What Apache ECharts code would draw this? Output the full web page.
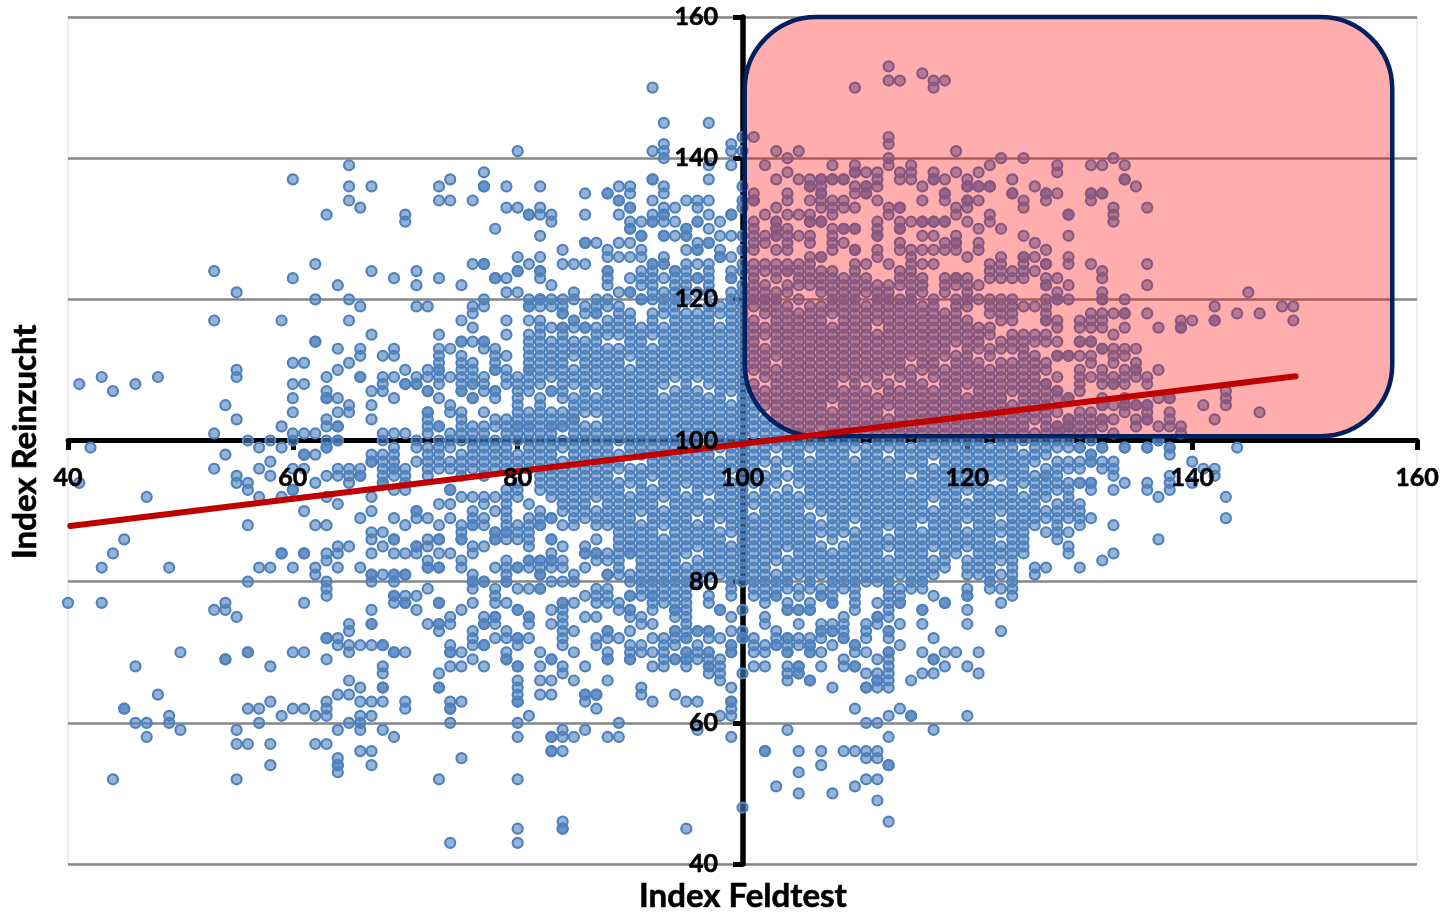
<!DOCTYPE html>
<html><head><meta charset="utf-8">
<style>html,body{margin:0;padding:0;background:#fff}#c{width:1444px;height:915px}</style>
<script src="https://cdn.jsdelivr.net/npm/echarts@6/dist/echarts.min.js"></script>
</head><body><div id="c"></div>
<script>
const tickX=[40,60,80,100,120,140,160];
const tickY=[40,60,80,100,120,140,160];
const xTitle="Index Feldtest";
const yTitle="Index Reinzucht";
const trendLine=[[40.2,87.9],[149.2,109.1]];
const highlightBox=[[100.2,160],[157.8,100.6]];

const xLeft=[40,41,42,43,44,45,46,47,48,49,50,53,54,55,56,57,58,59,60,61,62,63,64,65,66,67,68,69];
const yLeft=[[77],[108,94],[99],[109,82,77],[107,84,52],[86,62,62],[108,68,60],[92,60,58],[109,64],[82,61,60],[70,59],
[124,117,101,96,76],[105,98,77,76,69,69],[121,110,109,103,95,94,75,59,57,52],[100,94,93,88,80,70,70,62,57],[99,96,92,82,62,60],[100,97,95,82,68,63,57,54],[117,102,99,92,84,84,61],
[137,123,111,108,106,104,101,100,96,93,93,82,70,62],[111,108,101,98,98,96,90,84,84,77,70,62],[125,120,114,114,101,98,94,88,82,81,61,57],
[132,109,107,106,106,103,102,100,99,99,95,92,88,84,83,80,79,78,72,72,69,63,62,61,57],
[122,113,110,106,104,102,102,100,100,96,95,91,85,84,82,72,71,64,59,55,54,54,53],
[139,136,134,120,117,111,105,104,96,95,94,85,74,73,71,70,66,64,60],
[133,119,113,112,109,109,96,95,95,89,82,71,65,63,61,60,59,56],
[136,124,115,107,105,103,98,97,97,92,90,87,86,84,81,81,80,76,74,74,71,63,61,56,54],
[112,109,108,107,101,100,98,97,96,95,94,94,87,85,81,71,71,68,67,65,65,63,59],
[123,113,112,109,106,101,99,98,97,96,96,95,93,89,86,86,84,81,81,80,78,78,77,70,70,58]];

const xMid=[70,71,72,73,74,75,76,77,78,79,80,81,82,83,84,85,86,87,88,89,90,91,92,93,94,95,96,97,98,99];
const yMid=[[132,131,110,108,108,101,96,95,94,93,88,84,81,81,78,77,77,70,63,62],
[124,122,119,109,108,108,100,99,97,90,90,89,85,85,84,78,76],
[119,110,109,107,107,104,104,103,102,101,99,98,97,96,95,89,86,85,83,82,82,79,74],
[136,134,123,115,113,112,111,110,110,109,108,106,102,102,100,99,98,97,96,91,88,86,86,84,82,82,77,77,74,74,73,67,65,65,52],
[137,134,113,109,105,104,101,100,99,97,96,93,93,91,89,84,75,74,71,70,70,68,63,62,62,60,43],
[122,117,114,114,112,111,110,109,108,107,107,104,103,102,101,100,98,97,96,95,92,88,87,86,86,83,82,76,70,68,63,55],
[134,125,119,118,116,114,111,110,109,108,108,106,106,102,101,100,99,98,97,96,92,90,89,88,88,85,84,81,80,80,79,77,73,72,71,69],
[138,136,136,125,125,120,119,114,114,113,109,108,107,104,102,101,100,99,98,97,96,95,92,91,89,88,85,80,80,75,74,74,71,71,68],
[130,123,123,113,112,111,110,110,107,107,106,103,102,100,99,98,97,96,92,90,87,87,86,86,82,79,78,77,75,75,74,72],
[136,133,123,121,117,115,112,110,109,108,103,102,101,100,99,98,97,96,93,92,91,90,89,88,87,87,86,83,82,81,80,80,77,73,72,70,69,69],
[141,133,126,124,124,121,109,108,107,106,105,104,103,102,102,101,100,98,97,96,94,93,92,88,87,86,82,82,79,76,76,72,72,71,68,68,66,65,64,63,63,60,58,52,45,43],
[132,132,125,120,119,119,117,115,114,113,112,111,110,110,109,108,107,104,103,102,102,101,100,99,98,97,96,91,89,88,87,86,85,83,83,82,79,75,75,74,72,61],
[136,133,132,129,126,124,124,123,120,120,119,117,116,115,114,113,112,111,110,109,108,106,105,104,103,102,101,100,99,98,97,96,95,94,93,90,89,88,88,83,83,82,81,81,79,79,70,68,66,64],
[132,131,122,120,119,116,114,113,112,111,110,109,107,107,104,103,102,102,101,100,99,98,97,96,95,94,93,92,89,89,86,86,84,83,83,82,80,76,74,69,69,66,64,58,58,56,56],
[127,125,120,119,118,118,116,116,115,114,113,112,111,110,109,108,107,106,104,103,102,102,100,99,97,96,95,94,93,92,91,90,88,85,83,82,80,77,77,76,75,74,73,72,71,68,67,59,58,56,46,45,45],
[125,121,120,117,117,116,114,113,112,110,109,108,106,105,104,103,103,102,101,100,99,98,97,96,95,94,93,92,91,90,89,88,81,80,77,73,70,66,58],
[135,132,128,128,125,119,118,116,116,114,113,112,111,110,109,108,107,106,105,104,102,101,100,99,98,97,96,95,94,93,92,91,90,89,85,84,84,82,78,75,68,64,64,63,59],
[128,120,119,118,118,116,115,114,113,112,111,110,109,108,106,105,104,102,101,100,99,98,97,96,95,94,93,92,90,89,88,86,84,84,83,79,78,77,75,72,71,64,64,62],
[135,135,127,126,124,124,123,122,120,119,117,116,115,113,112,111,110,109,108,107,106,105,104,103,102,101,100,99,98,97,96,95,94,93,92,91,90,89,88,84,83,81,81,79,78,77,73,73,72,70,69,69,66,58],
[136,134,134,132,128,126,121,119,118,117,116,115,113,112,111,110,109,108,107,106,105,104,103,102,101,100,98,97,96,94,93,92,91,90,89,88,87,86,85,84,83,82,81,77,76,72,60,58],
[136,135,133,133,131,130,130,128,126,123,121,121,118,117,116,115,114,113,112,110,109,108,107,106,105,104,103,102,101,100,99,98,96,95,94,92,91,90,89,88,87,86,85,84,84,81,80,78,78,76,76,75,73,71,70,69,69],
[131,129,129,127,126,124,123,122,120,120,116,115,114,113,112,111,110,109,108,107,106,105,104,103,102,101,100,99,98,96,95,94,93,92,91,90,88,87,86,85,84,83,82,81,80,79,78,75,74,71,70,65,64],
[150,141,137,137,134,132,131,131,125,125,124,123,122,121,120,118,117,116,115,113,112,111,110,109,108,107,106,105,104,103,102,101,100,99,98,97,96,95,93,92,91,90,89,88,87,86,85,84,83,82,81,80,79,78,78,77,76,74,72,70,68,63],
[145,142,141,140,136,135,133,132,132,131,129,129,126,125,125,123,121,120,119,118,116,115,114,113,112,111,110,109,108,106,105,104,103,102,101,100,99,98,97,96,95,94,93,92,90,89,88,86,85,84,83,82,81,80,79,78,77,72,71,70,69,68],
[133,131,129,124,124,123,122,121,120,119,118,117,116,115,114,113,112,111,110,109,107,106,105,104,103,102,101,100,99,98,97,96,95,94,93,92,91,90,89,88,87,86,85,84,83,82,81,80,79,78,77,76,76,75,73,73,72,71,69,69,64],
[134,130,130,129,129,127,125,124,123,122,121,120,118,117,116,115,114,113,112,111,110,109,108,107,106,105,104,103,102,101,100,99,98,97,96,95,94,92,91,90,89,88,87,86,85,84,82,81,80,79,78,77,76,75,74,73,72,72,70,70,69,69,68,63,45],
[134,133,131,131,128,127,127,125,123,123,121,118,117,116,115,114,113,112,111,110,109,107,106,105,104,103,102,101,100,99,98,97,96,95,94,93,92,91,90,88,87,86,85,83,82,81,80,73,73,71,70,69,63,59],
[145,139,137,134,132,130,128,128,125,124,123,122,121,119,118,117,116,115,114,113,112,111,110,109,108,106,105,104,103,102,101,100,99,98,97,96,95,94,93,91,90,89,88,87,86,85,84,83,82,81,78,77,73,73,72,70,70,69,68,68,67],
[131,129,127,126,126,119,118,116,115,114,113,112,111,110,109,108,107,106,105,104,103,102,101,100,99,97,96,95,94,93,92,91,90,89,87,86,85,84,83,82,81,76,76,72,69,68,67,66,61],
[142,141,139,132,132,129,126,124,123,123,121,120,119,118,117,116,115,114,113,112,111,110,109,108,107,105,104,103,102,101,100,99,98,97,96,94,93,92,91,90,89,88,87,85,84,83,82,81,80,79,78,75,73,71,71,70,70,65,63,63,62,61,58]];

const xRight=[100,101,102,103,104,105,106,107,108,109,110,111,112,113,114,115,116,117,118,119,120,121,122,123,124,125,126,127,128,129,130,131,132,133,134,135,136,137,138,139,140,141,142,143,144,145,146,148,149];
const yRight=[[143,141,136,134,133,129,127,125,124,122,121,120,119,118,117,116,115,114,113,112,111,110,109,108,107,106,105,104,103,102,101,100,99,98,97,96,95,94,93,92,91,90,89,88,87,86,85,84,83,82,81,80,76,73,72,72,67,48],
[143,135,134,134,131,130,129,128,127,125,124,123,122,121,120,119,117,116,115,114,113,112,111,110,108,107,106,105,104,103,102,101,99,98,97,96,95,94,92,91,89,88,87,86,85,84,83,82,81,80,79,78,72,71,70,68],
[139,132,129,128,125,124,122,121,120,119,118,116,115,113,112,111,110,109,107,106,105,103,102,101,100,99,98,97,95,94,93,92,91,90,89,88,87,86,85,84,83,82,81,80,79,78,77,75,74,71,70,68,56,56],
[141,137,133,131,131,130,130,129,129,127,125,124,123,121,120,119,118,117,116,115,114,113,112,110,109,108,107,106,105,104,103,102,101,100,99,97,96,95,94,92,91,90,89,88,87,86,85,84,83,81,80,79,78,78,73,72,71,71,51],
[140,138,135,134,132,130,129,128,127,125,124,124,122,121,119,118,117,116,115,114,113,112,111,110,109,108,107,106,105,104,103,102,101,100,99,98,97,95,93,92,91,90,89,88,87,86,85,83,82,81,80,79,77,76,76,72,72,71,70,70,68,67,66,59],
[141,137,132,129,125,124,123,122,120,118,117,116,115,114,113,112,111,110,109,108,107,106,105,104,103,102,101,100,99,98,97,96,95,94,92,91,90,89,88,87,86,85,84,83,82,81,79,78,76,76,74,72,71,68,68,67,67,56,53,50],
[137,136,136,134,132,131,131,129,128,126,125,124,123,122,119,118,117,116,115,114,113,112,111,110,109,108,107,106,105,104,103,102,101,100,99,97,96,95,94,93,92,91,89,88,87,86,85,84,83,82,81,80,79,77,76,76,72,71,71,70,70,66,66],
[137,137,136,135,135,134,133,131,131,126,126,124,123,122,121,119,118,117,116,115,114,113,112,111,110,109,108,107,106,105,104,103,102,100,99,98,97,96,95,94,93,92,91,90,88,87,85,84,83,82,81,79,78,78,74,73,73,72,70,68,56,54],
[139,137,137,134,133,132,130,129,128,127,124,123,122,121,120,119,118,116,115,114,113,112,111,110,109,108,107,106,104,103,102,101,100,99,98,97,96,95,94,93,92,91,90,89,88,87,86,84,83,82,81,80,79,78,77,77,74,73,73,71,65,50],
[137,137,134,133,130,130,128,123,122,121,120,119,118,117,116,115,114,113,112,111,110,109,107,106,105,104,103,102,101,100,99,98,97,96,95,94,93,92,91,90,89,88,87,85,84,83,82,81,80,79,75,74,73,72,72,69,68,56],
[150,139,138,138,136,135,133,130,130,127,127,125,124,123,122,121,120,119,118,117,116,115,114,113,112,111,110,109,108,107,106,105,104,103,102,101,100,99,97,96,95,94,93,92,91,90,89,87,86,85,84,83,82,81,80,79,78,77,76,71,71,70,68,68,62,56,51],
[138,136,136,135,135,125,123,122,121,119,118,117,116,115,114,113,112,111,110,109,107,106,105,104,103,102,101,99,98,97,96,95,94,93,92,91,90,89,88,87,86,85,84,83,82,81,80,74,73,72,70,67,65,65,60,56,55,52],
[138,137,136,134,131,130,129,129,127,126,122,121,120,119,118,117,115,114,113,112,111,110,109,108,106,105,104,103,102,101,100,99,98,97,96,95,94,93,92,91,90,89,88,87,86,85,84,83,82,81,80,77,75,75,74,69,67,66,66,65,60,56,55,52,49],
[153,151,143,142,140,139,133,132,125,122,121,120,119,118,117,116,115,114,113,112,111,110,108,107,106,105,103,102,101,100,99,97,96,95,94,93,92,91,90,89,88,86,85,83,82,81,80,79,78,77,76,75,73,73,72,70,70,69,68,67,66,65,61,58,54,54,46],
[151,138,137,133,133,131,130,130,128,127,124,123,122,120,119,118,117,116,115,114,113,112,111,110,109,107,106,105,104,103,102,101,100,99,98,97,96,95,94,93,92,91,90,89,88,87,86,85,84,83,82,81,79,78,77,77,74,71,62],
[139,138,137,131,127,126,125,124,123,122,121,120,119,118,117,116,115,114,113,112,110,109,108,107,106,105,104,103,102,101,99,98,97,96,94,93,92,91,90,89,88,87,86,85,84,83,82,81,80,79,66,61,61],
[152,136,134,131,131,129,127,125,123,122,121,119,118,117,116,115,114,113,112,111,110,108,107,106,105,104,103,102,101,100,99,98,97,96,95,94,93,92,91,90,89,87,86,85,84,83,82,81,80,79,76,76,74,70,67],
[151,150,138,137,137,131,131,129,127,125,120,119,118,117,116,115,114,113,112,111,110,109,107,106,105,104,103,102,101,100,99,98,96,95,94,93,92,90,89,88,87,86,85,83,82,81,78,72,69,69,67,59],
[151,137,135,135,134,131,131,128,127,123,122,121,118,117,116,115,114,113,112,110,109,108,107,106,105,104,103,102,101,100,99,98,97,96,95,94,93,92,91,90,89,88,87,86,85,84,83,82,77,77,70,68],
[141,138,133,132,129,128,128,127,123,123,122,120,119,118,117,116,115,114,112,111,110,109,108,107,106,105,104,103,102,101,100,99,98,97,96,95,94,93,92,91,90,89,88,87,86,85,84,70],
[137,136,136,134,134,133,131,126,123,122,121,120,119,117,116,115,114,113,112,111,110,109,108,106,105,104,103,102,101,100,99,98,97,96,95,94,93,91,90,89,87,86,85,83,82,81,79,78,78,76,74,68,61],
[138,136,136,134,130,128,127,122,120,116,115,114,113,111,110,109,108,107,106,105,104,103,102,101,100,99,98,97,96,95,94,93,92,91,90,89,88,87,86,85,84,83,82,81,70,67],
[139,136,136,132,131,125,124,123,120,119,118,116,115,113,112,110,109,108,107,106,105,104,103,102,101,99,98,97,96,95,93,92,91,90,89,88,87,86,85,84,83,82,81,80,79],
[140,130,126,125,124,123,120,119,118,117,114,113,111,110,109,108,107,106,105,104,103,102,101,100,99,98,97,96,95,93,92,91,90,88,87,85,84,83,81,79,77,73],
[137,135,135,124,123,120,119,118,117,115,114,113,111,110,109,108,107,105,104,103,102,101,100,99,98,97,96,95,94,93,92,91,90,89,88,87,86,85,84,83,82,81,80,79,78],
[140,134,133,129,126,126,125,124,123,119,115,114,113,112,111,110,109,108,107,106,105,104,103,102,101,100,98,97,96,95,94,92,91,90,89,88,87,86,85,84],
[136,128,126,124,119,115,114,112,111,110,109,108,107,106,105,104,103,101,100,99,98,97,95,94,93,92,91,90,89,88,82,81],
[135,135,134,127,125,125,123,122,122,120,119,118,117,117,115,114,111,110,108,108,107,106,105,104,103,102,101,100,99,98,96,95,95,94,93,92,90,89,87,82],
[139,138,135,123,121,120,120,117,116,114,112,112,109,107,107,106,104,102,102,101,101,100,99,97,96,95,94,93,91,90,89,88,87,86],
[132,132,129,126,125,122,120,112,112,106,106,103,103,102,102,101,100,99,97,96,94,93,92,91,90,89,87,85,84],
[117,116,114,114,112,110,109,108,107,104,103,102,101,99,99,97,96,94,94,91,90,89,88,82],
[139,135,135,134,125,118,117,116,114,114,112,111,109,104,103,102,101,100,98,98,97,97,94,94,93,89],
[139,135,135,124,123,121,120,120,118,117,116,113,113,110,109,108,106,105,105,103,103,102,99,99,97,96,83],
[140,133,132,131,118,115,113,112,111,109,108,108,105,103,101,97,96,95,93,88,84],
[139,137,137,120,118,118,116,113,112,110,109,108,106,105,105,104,99,99,94],
[136,113,111,110,110,109,105,105,103,102],
[133,125,122,118,109,108,105,105,104,103,103,99,99,94,93],
[116,110,106,102,100,100,92,86],
[106,106,104,103,102,99,99,98,95,94,93],
[117,116,116,102,101],[117,97,94],[105,96],[119,117,117,103,96,95],[107,106,105,92,89],[118,99],[121],[118,104],[119],[119,117]];

function points(xs,ys){const out=[];xs.forEach((x,i)=>ys[i].forEach(y=>out.push([x,y])));return out;}
const scatterData=[...points(xLeft,yLeft),...points(xMid,yMid),...points(xRight,yRight)];

const labelFont={fontFamily:'Lato',fontWeight:'bold',fontSize:25,color:'#000',textBorderColor:'#000',textBorderWidth:0.6};
const chart=echarts.init(document.getElementById('c'),null,{renderer:'canvas'});
const gridBox={left:68,right:27,top:17,bottom:51};
const xZero=-424, yZero=-675;
chart.setOption({
  animation:false,
  grid:{...gridBox,show:true,borderColor:'#dcdcdc',borderWidth:1,backgroundColor:'transparent'},
  xAxis:[
    {type:'value',min:tickX[0],max:tickX[tickX.length-1],interval:20,position:'bottom',offset:xZero,z:1,
     axisLine:{show:true,onZero:false,lineStyle:{color:'#000',width:5}},
     axisTick:{show:true,length:10,lineStyle:{color:'#000',width:5}},axisLabel:{show:false},splitLine:{show:false}},
    {type:'value',min:tickX[0],max:tickX[tickX.length-1],interval:20,position:'bottom',offset:xZero,z:9,
     axisLine:{show:false,onZero:false},axisTick:{show:false},splitLine:{show:false},
     axisLabel:{...labelFont,margin:25,showMinLabel:true,showMaxLabel:true,hideOverlap:false}}
  ],
  yAxis:[
    {type:'value',min:tickY[0],max:tickY[tickY.length-1],interval:20,position:'left',offset:yZero,z:1,
     axisLine:{show:true,onZero:false,lineStyle:{color:'#000',width:5.5}},
     axisTick:{show:true,length:10,lineStyle:{color:'#000',width:5}},axisLabel:{show:false},
     splitLine:{show:true,lineStyle:{color:'#868686',width:2.5}}},
    {type:'value',min:tickY[0],max:tickY[tickY.length-1],interval:20,position:'left',offset:yZero,z:9,
     axisLine:{show:false,onZero:false},axisTick:{show:false},splitLine:{show:false},
     axisLabel:{...labelFont,margin:25,showMinLabel:true,showMaxLabel:true,hideOverlap:false}}
  ],
  series:[
    {type:'scatter',data:scatterData,symbol:'circle',symbolSize:10,clip:false,z:3,silent:true,
     itemStyle:{color:'rgba(79,129,189,0.6)',borderColor:'#4F81BD',borderWidth:2.2,opacity:1}},
    {type:'custom',z:4,clip:false,silent:true,data:[highlightBox[0].concat(highlightBox[1])],
     renderItem(params,api){
       const a=api.coord([api.value(0),api.value(1)]),b=api.coord([api.value(2),api.value(3)]);
       return {type:'rect',shape:{x:a[0],y:a[1],width:b[0]-a[0],height:b[1]-a[1],r:72},
         style:{fill:'rgba(255,0,0,0.32)',stroke:'#002060',lineWidth:4.5}};
     }},
    {type:'line',data:trendLine,showSymbol:false,symbol:'none',z:5,silent:true,clip:false,
     lineStyle:{color:'#C00000',width:6,cap:'round'}}
  ],
  graphic:[
    {type:'text',x:639,y:880,z:10,style:{text:xTitle,fontFamily:'Lato',fontWeight:'bold',fontSize:33,fill:'#000',stroke:'#000',lineWidth:0.6}},
    {type:'text',x:9,y:559,rotation:Math.PI/2,z:10,style:{text:yTitle,fontFamily:'Lato',fontWeight:'bold',fontSize:33,fill:'#000',stroke:'#000',lineWidth:0.6}}
  ]
});
</script></body></html>
